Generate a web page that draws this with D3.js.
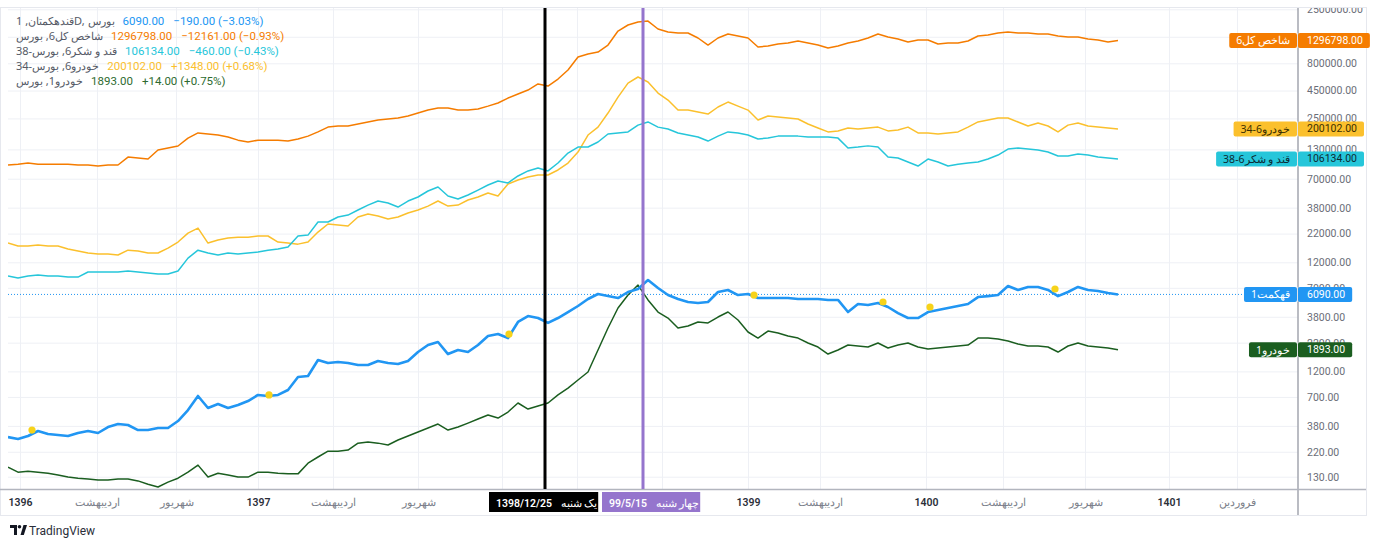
<!DOCTYPE html>
<html><head><meta charset="utf-8">
<script src="https://cdn.jsdelivr.net/npm/d3@7"></script>
<style>
html,body{margin:0;padding:0;background:#fff;}
svg{display:block;font-family:Roboto,"Noto Sans",sans-serif;}
</style></head><body>
<svg id="chart" width="1376" height="547"></svg>
<script>
// ---- data (log price scale) ----
const shakhesKol6 = [93500,95200,97500,95200,95200,95200,95200,93500,93500,91500,
93500,93500,110600,108300,106100,128300,133800,139600,165000,184000,
180000,176000,169000,158000,152000,158000,158000,158000,155000,162000,
172000,188000,208000,213000,213000,222000,232000,242000,247000,252000,
263000,280000,298000,311000,311000,298000,298000,305000,324000,346000,
384000,418000,455000,517000,495000,574000,694000,913000,973000,1015000,
1176000,1580000,1795000,1910000,1950000,1650000,1548000,1515000,1515000,1364000,
1176000,1364000,1484000,1422000,1364000,1128000,1152000,1202000,1227000,1280000,
1227000,1176000,1104000,1152000,1227000,1280000,1364000,1484000,1392000,1335000,
1254000,1307000,1307000,1202000,1227000,1227000,1280000,1422000,1453000,1515000,
1548000,1515000,1515000,1484000,1484000,1422000,1392000,1392000,1335000,1307000,1254000,1296798];
const khodro6_34 = [18000,16900,16900,17300,16900,16900,15900,15200,14600,14300,
14300,14000,15500,15200,14600,14600,16200,18400,22200,24700,
18000,19200,20000,20400,20400,20900,20900,18400,18000,17600,
18400,22700,26900,26300,25800,31200,33300,31900,29900,31200,
34000,36200,39300,43700,39300,40100,44700,47600,51800,48600,
62500,68100,72600,75700,75700,84200,97500,123000,176000,208000,
280000,392000,527000,599000,539000,427000,368000,298000,298000,286000,
274000,318000,353000,324000,298000,242000,263000,257000,252000,247000,
222000,204000,188000,192000,204000,200000,204000,208000,192000,196000,
208000,184000,184000,180000,184000,188000,208000,232000,242000,252000,
252000,232000,213000,227000,213000,188000,217000,227000,213000,208000,204000,200102];
const qandShekar6_38 = [8980,8600,8980,9190,8980,8980,8780,8780,9770,9770,
9770,9770,9980,9770,9560,9360,9360,9980,13100,15500,
14600,14000,14600,14300,14600,14900,15500,15900,16600,20900,
21300,28100,28100,31200,32500,36200,40100,43700,41900,38500,
43700,47600,54000,58700,48600,45600,49600,55100,61300,66700,
64000,74200,82500,87700,82500,97500,120400,136600,136600,152000,
180000,184000,188000,217000,232000,208000,200000,184000,176000,169000,
155000,172000,188000,184000,176000,162000,165000,172000,172000,172000,
169000,169000,169000,165000,134000,136600,140000,136600,110600,108300,
99500,91500,106100,99500,91500,95200,97500,99500,106100,115400,
131000,134000,131000,128300,123000,113000,113000,117900,115400,110600,108300,106134];
const qahkamat1 = [300,288,307,341,320,313,307,327,341,327,
371,395,387,348,348,363,363,421,531,714,
554,603,554,590,642,730,714,730,810,1065,
1088,1525,1431,1462,1431,1372,1372,1493,1431,1401,
1493,1806,2093,2230,1730,1884,1806,2093,2530,2640,
2425,3405,3860,3700,3335,3700,4200,4770,5530,6140,
5880,5640,6410,6830,8250,6970,6010,5530,5190,5080,
5190,6410,6690,6010,6140,5640,5640,5640,5640,5530,
5530,5530,5420,5420,4200,4970,4870,5080,4670,4110,
3700,3700,4200,4380,4570,4770,4970,5760,5880,6010,
7280,6690,7130,7130,6690,5880,6410,7130,6690,6550,6270,6090];
const khodro1 = [159,143,146,143,140,135,129,126,124,121,
121,124,124,119,111,104.5,116,126,143,166,
129,140,135,129,129,143,143,140,138,138,
173,197,223,223,228,264,270,264,254,282,
307,334,363,395,348,371,403,439,478,448,
509,616,542,577,616,730,844,1000,1184,1884,
2998,4570,6010,7420,5420,4200,3700,2998,3125,3405,
3335,3780,4200,3550,2755,2425,2810,2700,2530,2425,
2185,2006,1730,1884,2093,2050,2006,2185,1965,2093,
2185,2006,1924,1965,2006,2050,2093,2425,2425,2375,
2276,2140,2050,2050,2006,1806,2050,2185,2050,2006,1965,1893];

const eventBar = [2.4, 26.1, 50.1, 74.6, 87.5, 92.2, 104.7];
const eventValue = [348, 730, 2640, 6010, 5190, 4670, 6830];

const priceTicks = [2500000,1400000,800000,450000,250000,130000,70000,38000,22000,12000,7000,3800,2200,1200,700,380,220,130];
const timeTickBars = [1.2, 8.9, 16.8, 25, 32.5, 41, 49.4, 56.9, 65.4, 74, 81.2, 91.8, 99.5, 107.7, 116.1, 122.9];
// labels under the marker boxes are not visible in the reference
const timeTickLabels = ["1396","اردیبهشت","شهریور","1397","اردیبهشت","شهریور","","","","1399","اردیبهشت","1400","اردیبهشت","شهریور","1401","فروردین"];
const yearLabels = ["1396","1397","1398","1399","1400","1401"];

const markerBars = [53.7, 63.5];
const markerLabels = [["1398/12/25","یک شنبه"],["99/5/15","چهار شنبه"]];
const markerColors = ["#000000","#9575cd"];

const seriesNames = ["شاخص کل6","خودرو6-34","قند و شکر6-38","خودرو1","قهکمت1"];
const seriesData = [shakhesKol6, khodro6_34, qandShekar6_38, khodro1, qahkamat1];
const seriesColors = ["#f57c00","#fbc02d","#26c6da","#1b5e20","#2196f3"];
const seriesWidths = [1.5,1.5,1.5,1.5,2.6];
const tagTextColors = ["#ffffff","#3a2e00","#0d2b33","#ffffff","#ffffff"];

const legendNames = ["قندهکمتان, 1D, بورس","شاخص کل6, بورس","قند و شکر6, بورس-38","خودرو6, بورس-34","خودرو1, بورس"];
const legendValues = ["6090.00","1296798.00","106134.00","200102.00","1893.00"];
const legendChanges = ["−190.00 (−3.03%)","−12161.00 (−0.93%)","−460.00 (−0.43%)","+1348.00 (+0.68%)","+14.00 (+0.75%)"];
const legendColors = ["#2196f3","#f57c00","#26c6da","#fbc02d","#2e6b30"];

// ---- layout ----
const plotL = 8, plotR = 1298, plotT = 8, plotB = 489;
const svg = d3.select("#chart");

const x = d3.scaleLinear().domain([0, 111]).range([8, 1118]);
const y = d3.scaleLog().domain([130, 2500000]).range([476.7, 9.3]);

// frame
svg.append("rect").attr("x",0.5).attr("y",7.5).attr("width",1366).attr("height",508)
  .attr("fill","none").attr("stroke","#e6e8ee");

const defs = svg.append("defs");
defs.append("clipPath").attr("id","plotclip")
  .append("rect").attr("x",plotL).attr("y",plotT).attr("width",plotR-plotL).attr("height",plotB-plotT);
defs.append("clipPath").attr("id","axisclip")
  .append("rect").attr("x",plotR).attr("y",plotT).attr("width",70).attr("height",plotB-plotT);

// horizontal grid
const gy = svg.append("g").attr("transform",`translate(${plotL},0)`)
  .call(d3.axisRight(y).tickValues(priceTicks).tickSize(plotR-plotL).tickFormat(""));
gy.select(".domain").remove();
gy.selectAll("line").attr("stroke","#eef0f5");

// vertical grid
const gx = svg.append("g").attr("transform",`translate(0,${plotT})`)
  .call(d3.axisBottom(x).tickValues(timeTickBars).tickSize(plotB-plotT).tickFormat(""));
gx.select(".domain").remove();
gx.selectAll("line").attr("stroke","#eef0f5");

// price axis labels (clipped at the top like the reference)
const ayWrap = svg.append("g").attr("clip-path","url(#axisclip)");
const ay = ayWrap.append("g").attr("transform",`translate(${plotR},0)`)
  .call(d3.axisRight(y).tickValues(priceTicks).tickSize(0).tickPadding(9).tickFormat(d=>d.toFixed(2)));
ay.select(".domain").remove();
ay.selectAll("text").attr("fill","#6a6d78").style("font-size","10.5px").style("font-family","Roboto,sans-serif");

// time axis labels
const ax = svg.append("g").attr("transform",`translate(0,${plotB})`)
  .call(d3.axisBottom(x).tickValues(timeTickBars).tickSize(0).tickPadding(10)
    .tickFormat((d,i)=>timeTickLabels[i]));
ax.select(".domain").remove();
ax.selectAll("text")
  .attr("fill",(d,i)=>yearLabels.includes(timeTickLabels[i]) ? "#2a2e39" : "#7b7f8a")
  .style("font-weight",(d,i)=>yearLabels.includes(timeTickLabels[i]) ? "600" : "400")
  .style("font-size","10.5px").style("font-family","Roboto,'Noto Sans',sans-serif");

// axis borders
svg.append("line").attr("x1",plotR).attr("x2",plotR).attr("y1",plotT).attr("y2",515)
  .attr("stroke","#a3a6af").attr("stroke-width",1.5);
svg.append("line").attr("x1",0).attr("x2",1366).attr("y1",plotB+0.5).attr("y2",plotB+0.5)
  .attr("stroke","#b2b5be").attr("stroke-width",1.5);

// series lines
const plot = svg.append("g").attr("clip-path","url(#plotclip)");
const line = d3.line().x((d,i)=>x(i)).y(d=>y(d)).curve(d3.curveLinear);

// last-price dotted line of main series
const lastMain = qahkamat1[qahkamat1.length-1];
plot.append("line").attr("x1",plotL).attr("x2",plotR)
  .attr("y1",y(lastMain)).attr("y2",y(lastMain))
  .attr("stroke","#2196f3").attr("stroke-width",1).attr("stroke-dasharray","1,2");

seriesData.forEach((s,k)=>{
  plot.append("path").datum(s).attr("d",line).attr("fill","none")
    .attr("stroke",seriesColors[k]).attr("stroke-width",seriesWidths[k])
    .attr("stroke-linejoin","round");
});

// event dots
plot.selectAll("circle.ev").data(eventBar).enter().append("circle")
  .attr("cx",d=>x(d)).attr("cy",(d,i)=>y(eventValue[i])).attr("r",3.6)
  .attr("fill","#f7d31a");

// vertical markers
markerBars.forEach((b,i)=>{
  svg.append("line").attr("x1",x(b)).attr("x2",x(b)).attr("y1",plotT).attr("y2",plotB)
    .attr("stroke",markerColors[i]).attr("stroke-width",3);
});
// marker labels on time axis
markerBars.forEach((b,i)=>{
  const g = svg.append("g");
  const t = g.append("text").attr("y",503).attr("dominant-baseline","central")
    .attr("fill","#fff").style("font-size","10.5px").style("font-family","Roboto,'Noto Sans',sans-serif");
  t.append("tspan").text(markerLabels[i][0]).style("font-weight","600");
  t.append("tspan").text(" " + markerLabels[i][1]).attr("dx",6);
  const w = t.node().getComputedTextLength() + 14;
  const left = i===0 ? x(b) - 56 : x(b) - 41;
  t.attr("x", left + 7);
  g.insert("rect","text").attr("x",left).attr("y",492).attr("width",w).attr("height",20)
    .attr("fill",markerColors[i]);
});

// price tags
seriesData.forEach((s,k)=>{
  const v = s[s.length-1];
  const cy = y(v);
  const g = svg.append("g");
  const vt = g.append("text").attr("x",plotR+9).attr("y",cy).attr("dominant-baseline","central")
    .attr("fill",tagTextColors[k]).style("font-size","10.5px").text(v.toFixed(2));
  const vw = vt.node().getComputedTextLength();
  g.insert("rect","text").attr("x",plotR).attr("y",cy-7.5).attr("width",vw+16).attr("height",15)
    .attr("rx",2).attr("fill",seriesColors[k]);
  const nt = g.append("text").attr("y",cy).attr("dominant-baseline","central")
    .attr("fill",tagTextColors[k]).style("font-size","10.5px").style("font-family","'Noto Sans',sans-serif")
    .text(seriesNames[k]);
  const nw = nt.node().getComputedTextLength();
  nt.attr("x",plotR-1-nw-7);
  g.insert("rect","text").attr("x",plotR-1-nw-14).attr("y",cy-7.5).attr("width",nw+14).attr("height",15)
    .attr("rx",2).attr("fill",seriesColors[k]);
  g.append("line").attr("x1",plotR-0.5).attr("x2",plotR-0.5).attr("y1",cy-7.5).attr("y2",cy+7.5)
    .attr("stroke","#ffffff").attr("stroke-opacity",0.6);
});

// legend
legendNames.forEach((n,i)=>{
  const cy = 20.5 + i*15;
  const nt = svg.append("text").attr("x",16).attr("y",cy).attr("dominant-baseline","central")
    .attr("fill","#555a66").style("font-size","11px").style("font-family","'Noto Sans',Roboto,sans-serif").text(n);
  const nw = nt.node().getComputedTextLength();
  const vt = svg.append("text").attr("x",16+nw+8).attr("y",cy).attr("dominant-baseline","central")
    .attr("fill",legendColors[i]).style("font-size","11.5px").text(legendValues[i]);
  const vw = vt.node().getComputedTextLength();
  svg.append("text").attr("x",16+nw+8+vw+9).attr("y",cy).attr("dominant-baseline","central")
    .attr("fill",legendColors[i]).style("font-size","11.5px").text(legendChanges[i]);
});

// TradingView logo
const logo = svg.append("g").attr("transform","translate(10,525)");
logo.append("path").attr("d","M0 0 H7 V10 H4 V3 H0 Z").attr("fill","#131722");
logo.append("circle").attr("cx",9.5).attr("cy",1.8).attr("r",1.8).attr("fill","#131722");
logo.append("path").attr("d","M10.5 10 L13.5 0 H17 L13.8 10 Z").attr("fill","#131722");
svg.append("text").attr("x",29).attr("y",531).attr("dominant-baseline","central")
  .attr("fill","#2a2e39").style("font-size","12px").text("TradingView");
</script>
</body></html>
